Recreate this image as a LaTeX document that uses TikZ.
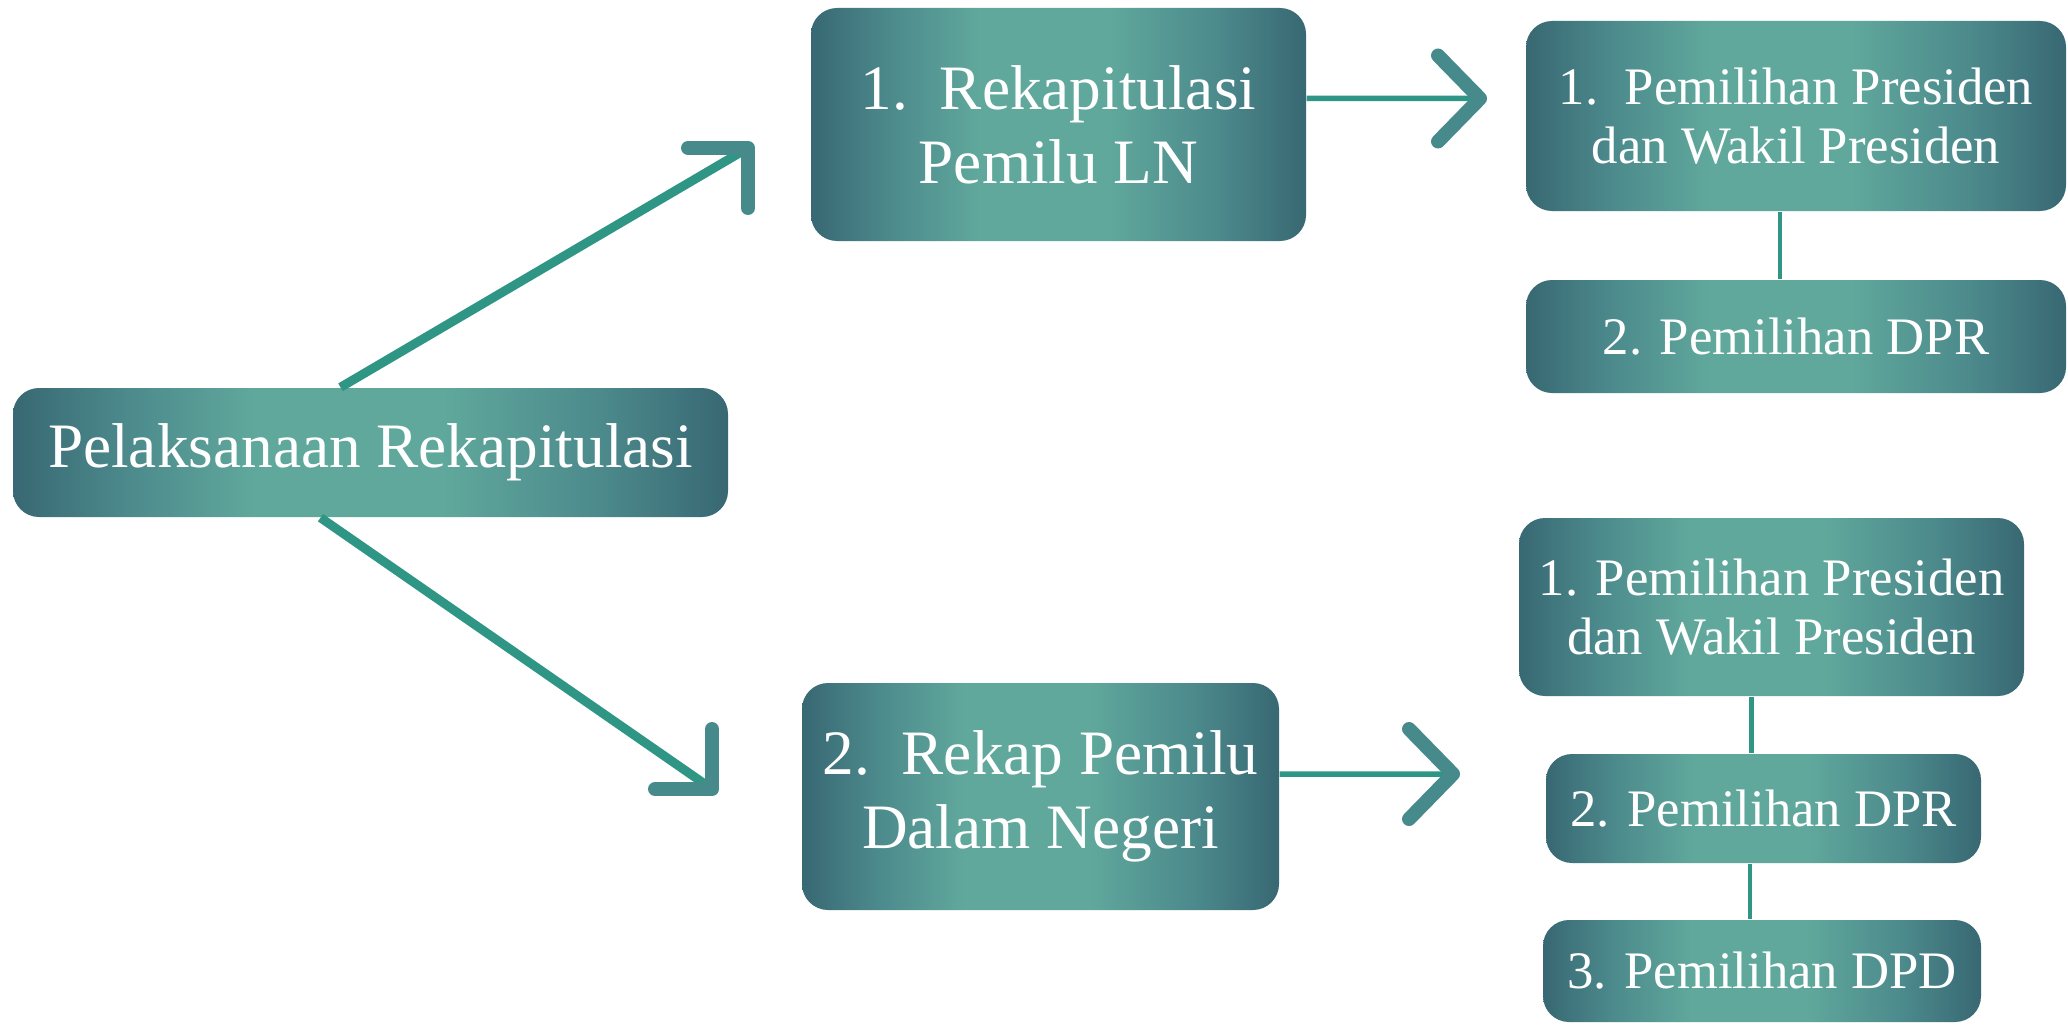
\documentclass[tikz,border=0pt]{standalone}
\usepackage{fontspec}
\setmainfont{Liberation Serif}

\definecolor{boxdark}{HTML}{386873}
\definecolor{boxmid}{HTML}{4C8A8C}
\definecolor{boxlight}{HTML}{60A89C}
\definecolor{linkgreen}{HTML}{2F9686}
\definecolor{chevteal}{HTML}{468A8C}
\pgfdeclarehorizontalshading{boxshade}{100bp}{color(0bp)=(boxdark); color(25bp)=(boxdark);
  color(33bp)=(boxmid); color(42bp)=(boxlight); color(55bp)=(boxlight); color(66bp)=(boxmid);
  color(75bp)=(boxdark); color(100bp)=(boxdark)}

\begin{document}
\begin{tikzpicture}
[stagebox/.style={rounded corners=0.26cm,shade,shading=boxshade,text=white,align=center,inner sep=0pt},%
  bigbox/.style={stagebox,font=\fontsize{18}{21}\selectfont},%
  smallbox/.style={stagebox,font=\fontsize{15}{17}\selectfont},%
  link/.style={draw=linkgreen,line width=0.09cm},%
  vlink/.style={draw=linkgreen,line width=0.045cm},%
  chev/.style={draw=chevteal,line width=0.14cm,line cap=round,line join=round}]
\fill[white] (0,0) rectangle (20.68,-10.25);
\useasboundingbox (0,0) rectangle (20.68,-10.25);
% left and middle column
\node[bigbox,minimum width=7.15cm,minimum height=1.29cm] (rekap) at (3.705,-4.525) {Pelaksanaan Rekapitulasi};
\node[bigbox,minimum width=4.95cm,minimum height=2.33cm] (ln) at (10.585,-1.245) {1.\ \ Rekapitulasi\\Pemilu LN};
\node[bigbox,minimum width=4.77cm,minimum height=2.27cm] (dn) at (10.405,-7.965) {2.\ \ Rekap Pemilu\\Dalam Negeri};
% right column
\node[smallbox,minimum width=5.4cm,minimum height=1.9cm] (lnpres) at (17.96,-1.16) {1.\ \ Pemilihan Presiden\\dan Wakil Presiden};
\node[smallbox,minimum width=5.4cm,minimum height=1.13cm] (lndpr) at (17.96,-3.365) {2. Pemilihan DPR};
\node[smallbox,minimum width=5.05cm,minimum height=1.78cm] (dnpres) at (17.715,-6.07) {1. Pemilihan Presiden\\dan Wakil Presiden};
\node[smallbox,minimum width=4.35cm,minimum height=1.09cm] (dndpr) at (17.635,-8.085) {2. Pemilihan DPR};
\node[smallbox,minimum width=4.38cm,minimum height=1.02cm] (dndpd) at (17.62,-9.71) {3. Pemilihan DPD};
% arrow tips
\coordinate (lnTip) at (7.48,-1.48);
\coordinate (dnTip) at (7.12,-7.89);
\coordinate (lnpresTip) at (14.80,-0.985);
\coordinate (dnpresTip) at (14.53,-7.74);
\draw[link] ([xshift=-0.3cm]rekap.north) -- (lnTip);
\draw[link] ([xshift=-0.5cm]rekap.south) -- (dnTip);
\draw[link,line width=0.055cm] ([yshift=0.26cm]ln.east) -- (lnpresTip);
\draw[link,line width=0.055cm] ([yshift=0.225cm]dn.east) -- (dnpresTip);
\draw[chev] ([xshift=-0.6cm]lnTip) -- (lnTip) -- ([yshift=-0.6cm]lnTip);
\draw[chev] ([yshift=0.6cm]dnTip) -- (dnTip) -- ([xshift=-0.57cm]dnTip);
\draw[chev] ([shift={(-0.42cm,0.43cm)}]lnpresTip) -- (lnpresTip) -- ([shift={(-0.42cm,-0.43cm)}]lnpresTip);
\draw[chev] ([shift={(-0.44cm,0.45cm)}]dnpresTip) -- (dnpresTip) -- ([shift={(-0.44cm,-0.45cm)}]dnpresTip);
% vertical links
\draw[vlink] ([xshift=-0.16cm]lnpres.south) -- ([xshift=-0.16cm]lnpres.south |- lndpr.north);
\draw[vlink] ([xshift=-0.2cm]dnpres.south) -- ([xshift=-0.2cm]dnpres.south |- dndpr.north);
\draw[vlink] ([xshift=-0.135cm]dndpr.south) -- ([xshift=-0.135cm]dndpr.south |- dndpd.north);
\end{tikzpicture}
\end{document}
